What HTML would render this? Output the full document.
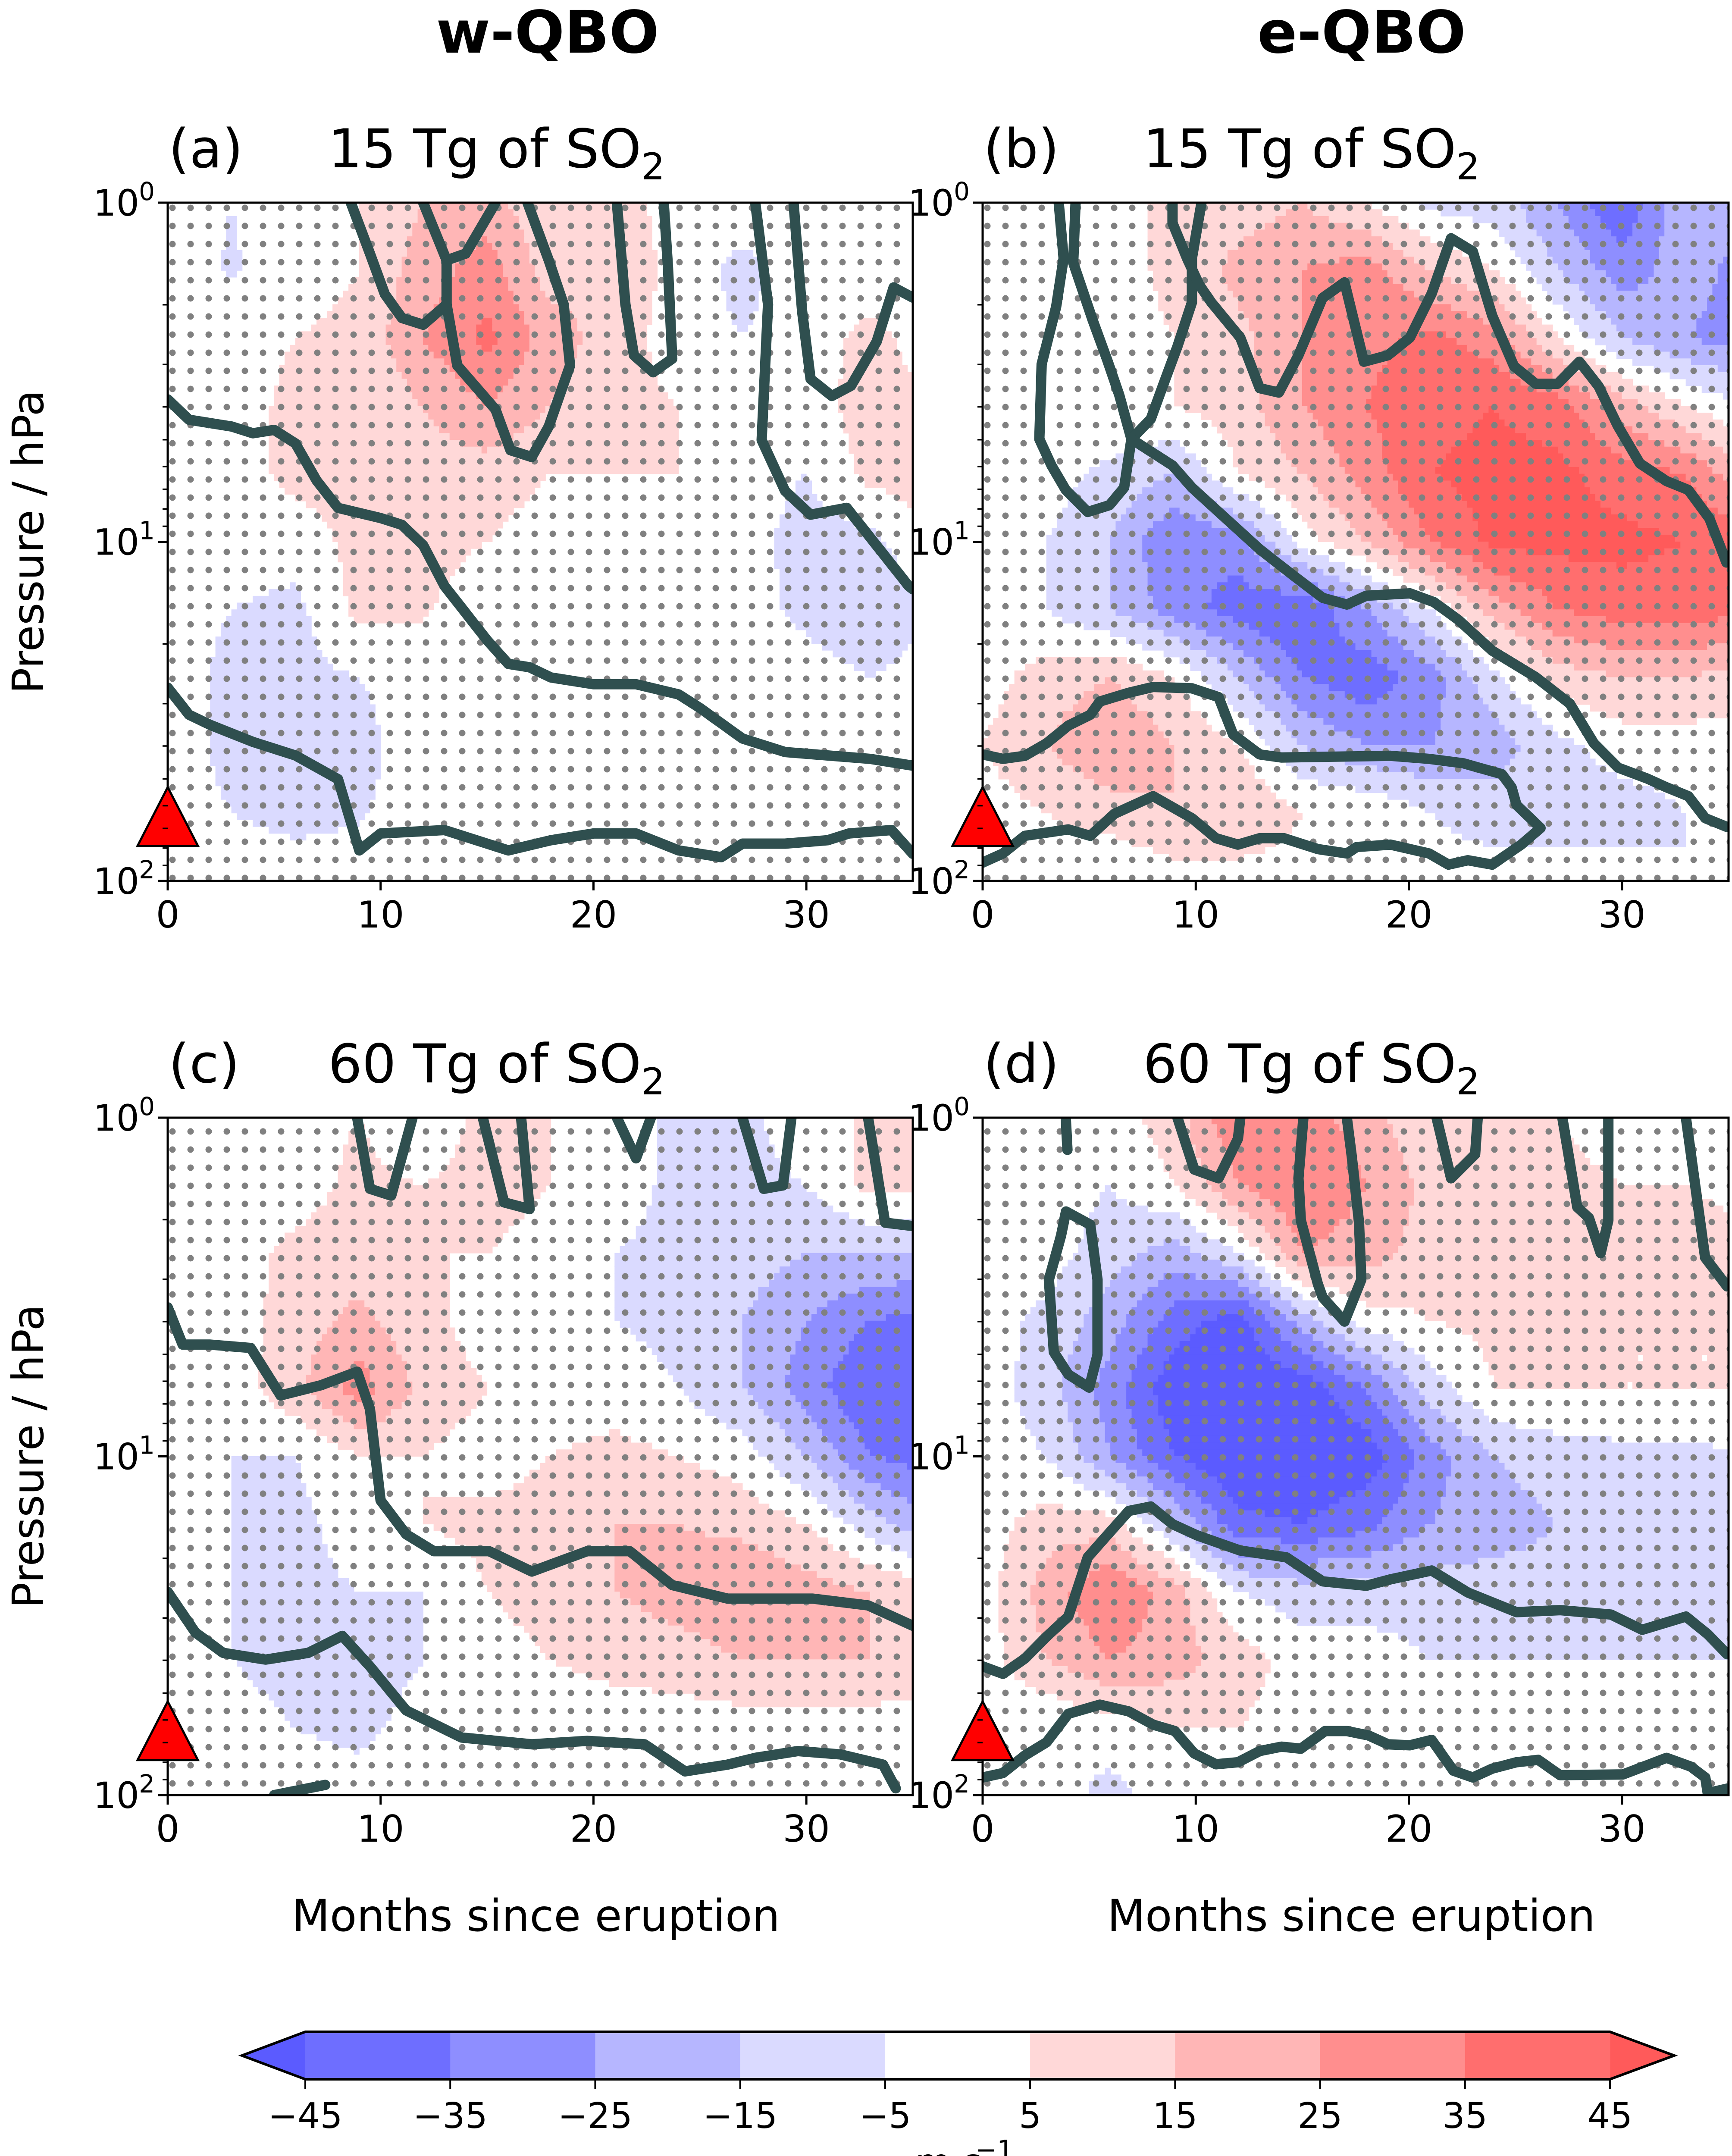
<!DOCTYPE html>
<html><head><meta charset="utf-8"><style>
html,body{margin:0;padding:0;background:#fff;width:4017px;height:5074px;overflow:hidden;}
svg{display:block;font-family:"DejaVu Sans","Liberation Sans",sans-serif;}
</style></head><body>
<svg id="fig" xmlns="http://www.w3.org/2000/svg" width="4017" height="5074" viewBox="0 0 4017 5074">
<defs>
<pattern id="stip" patternUnits="userSpaceOnUse" width="42" height="42" x="10" y="8"><circle cx="12" cy="12" r="7.5" fill="#808080"/></pattern>
</defs>
<text x="1270" y="122" font-size="136" font-weight="bold" text-anchor="middle">w-QBO</text>
<text x="3158" y="122" font-size="136" font-weight="bold" text-anchor="middle">e-QBO</text>
<g id="panels"></g>
<g id="cbar"></g>
</svg>
<script>
// ---------- data ----------
const nodeMonths=[0,3,6,9,12,15,18,21,24,27,30,33,36];
const nodeLogP=[0,0.2,0.4,0.6,0.8,1.0,1.2,1.4,1.6,1.8,2.0];
const fieldA=[
[0,-5,0,5,15,20,5,10,0,0,5,5,0],
[0,-6,0,5,20,30,10,15,0,-8,0,0,0],
[0,0,5,8,25,38,20,10,0,-5,0,8,0],
[0,0,8,5,15,25,15,8,5,0,0,10,5],
[0,0,8,8,10,10,5,5,5,0,-5,8,10],
[0,0,0,8,8,5,0,0,0,0,-10,-8,5],
[0,-5,-8,8,6,0,0,0,0,0,-8,-15,-5],
[0,-8,-8,-5,0,0,0,0,0,0,0,-5,0],
[0,-8,-8,-8,0,0,0,0,0,0,0,0,5],
[0,-5,-8,-6,0,0,0,0,0,0,0,0,0],
[0,0,0,0,0,0,0,0,0,0,0,0,0]];
const fieldB=[
[0,0,0,8,10,15,5,-8,-10,-25,-45,-15,-25],
[0,0,0,8,18,25,30,15,5,-15,-30,-20,-30],
[0,0,0,5,12,25,32,38,30,5,-15,-25,-30],
[0,0,5,5,10,25,35,42,45,40,20,5,-5],
[0,0,-8,-15,5,15,30,45,48,48,40,35,15],
[0,-5,-15,-35,-30,0,15,35,48,48,48,45,40],
[0,-5,-15,-30,-40,-45,-25,-5,20,35,40,40,38],
[0,10,15,5,-15,-35,-42,-30,-8,10,15,15,10],
[5,15,25,15,5,-15,-25,-25,-20,-8,0,0,0],
[0,5,10,15,15,5,5,-5,-10,-10,-10,-5,-5],
[0,0,-5,0,0,0,0,0,0,0,0,-5,0]];
const fieldC=[
[0,-5,0,5,-5,10,5,-5,-5,-10,5,5,5],
[0,0,0,8,5,10,5,0,-8,-10,-5,8,5],
[0,0,8,10,5,5,0,-5,-8,-10,-15,-15,-15],
[0,0,10,18,8,0,0,-5,-8,-15,-25,-35,-40],
[0,0,12,30,12,5,0,0,-5,-15,-30,-45,-45],
[0,-5,-5,5,5,0,5,8,5,0,-15,-35,-40],
[0,-5,-8,0,5,8,10,15,15,12,5,-10,-25],
[0,-5,-8,-5,-5,5,10,15,20,25,20,15,10],
[0,-5,-10,-12,-5,0,5,8,10,15,15,15,10],
[0,0,-5,-8,0,0,0,0,0,0,0,0,0],
[0,0,0,0,0,0,0,0,0,0,0,0,0]];
const fieldD=[
[0,0,0,10,35,30,20,5,10,5,0,0,5],
[0,0,-5,5,25,35,25,12,15,8,5,5,0],
[0,0,-10,-20,-5,25,20,10,15,10,8,12,10],
[0,-8,-20,-40,-50,-20,0,5,8,8,5,5,5],
[0,-10,-30,-52,-55,-52,-35,-10,5,5,5,5,5],
[0,-5,-25,-45,-55,-55,-52,-30,-15,-10,-8,-8,-5],
[0,10,10,-15,-42,-45,-38,-25,-20,-15,-10,-8,-8],
[0,20,35,20,-5,-10,-10,-10,-10,-10,-15,-15,-10],
[0,15,25,20,10,0,0,-5,-5,-5,-5,-5,-5],
[0,-5,0,5,5,0,0,0,0,0,0,0,0],
[0,0,-8,0,0,0,0,0,0,0,0,0,0]];
// zero-wind contour lines: [month, log10(p)]
const linesA=[
[[0,0.58],[1,0.64],[3,0.66],[4,0.68],[5,0.67],[6,0.71],[7,0.82],[8,0.9],[10,0.93],[11,0.95],[12,1.01],[13,1.13],[14,1.21],[15,1.29],[16,1.36],[17,1.37],[18,1.4],[20,1.42],[22,1.42],[24,1.45],[25,1.49],[27,1.58],[29,1.62],[31,1.63],[33,1.64],[35,1.66]],
[[0,1.43],[1,1.51],[2,1.54],[4,1.59],[6,1.63],[8,1.7],[9,1.91],[10,1.86],[13,1.85],[15,1.89],[16,1.91],[18,1.88],[20,1.86],[22,1.86],[24,1.91],[26,1.93],[27,1.89],[29,1.89],[31,1.88],[32,1.86],[34,1.85],[35,1.92]],
[[8.6,0],[9.5,0.15],[10.2,0.27],[11,0.34],[12,0.36],[13.1,0.3],[13.6,0.48],[15.4,0.61],[16.1,0.73],[17.1,0.75],[17.9,0.66],[18.9,0.48],[18.6,0.3],[17.9,0.17],[16.9,0]],
[[12,0],[13.1,0.17],[14,0.15],[15.4,0]],
[[13.1,0.17],[13.1,0.3]],
[[21.1,0],[21.5,0.3],[21.9,0.45],[22.8,0.5],[23.7,0.46],[23.5,0.19],[23.3,0]],
[[27.6,0],[28.2,0.3],[27.9,0.7],[29,0.85],[30.2,0.92],[31.9,0.9],[34.8,1.13],[35,1.14]],
[[29.4,0],[29.8,0.32],[30.2,0.52],[31.2,0.57],[32.1,0.54],[33.3,0.41],[34.1,0.25],[35,0.28]]];
const linesB=[
[[3.57,0],[3.8,0.164],[3.45,0.307],[2.77,0.476],[2.66,0.697],[3.23,0.775],[3.9,0.847],[4.93,0.912],[5.95,0.892],[6.64,0.84],[6.98,0.697],[6.41,0.567],[5.84,0.463],[5.16,0.346],[4.25,0.177],[4.36,0]],
[[6.98,0.697],[7.89,0.638],[8.45,0.541],[9.14,0.424],[9.82,0.294],[9.82,0.164],[10.27,0]],
[[8.91,0],[8.91,0.06],[9.59,0.164],[10.16,0.242],[10.73,0.294],[12.09,0.398],[13.0,0.547],[13.9,0.56],[14.82,0.45],[15.95,0.281],[16.98,0.235],[17.89,0.469],[19.02,0.45],[20.05,0.398],[21.07,0.268],[21.98,0.105],[23.0,0.144],[23.91,0.333],[24.93,0.482],[25.95,0.534],[26.98,0.534],[28.0,0.469],[28.9,0.541],[29.8,0.658],[30.84,0.769],[32.09,0.821],[33.11,0.847],[34.1,0.931],[34.9,1.061]],
[[6.98,0.697],[8.91,0.775],[9.82,0.84],[11.18,0.918],[13.0,1.022],[14.59,1.1],[15.95,1.165],[17.09,1.185],[18.0,1.159],[20.05,1.152],[21.18,1.178],[22.32,1.23],[23.91,1.321],[25.95,1.399],[27.55,1.477],[28.68,1.594],[29.82,1.666],[31.18,1.698],[32.09,1.724],[33.11,1.75],[33.91,1.815],[34.93,1.841]],
[[0,1.627],[0.95,1.64],[1.98,1.631],[3.0,1.594],[4.02,1.542],[5.05,1.51],[5.5,1.471],[6.86,1.445],[8.0,1.428],[9.82,1.432],[11.07,1.458],[11.75,1.568],[13.0,1.627],[14.02,1.636],[17.09,1.633],[19.14,1.631],[20.95,1.64],[22.55,1.653],[24.36,1.685],[24.82,1.724],[25.05,1.776],[26.18,1.844],[25.27,1.893],[23.91,1.952],[22.77,1.939],[21.86,1.952],[20.95,1.919],[19.14,1.893],[17.55,1.9],[17.09,1.919],[15.73,1.906],[14.14,1.874],[13.0,1.874],[11.98,1.893],[10.95,1.874],[9.82,1.815],[8.0,1.75],[6.18,1.802],[5.05,1.867],[4.02,1.848],[1.98,1.867],[0.95,1.919],[0,1.946]]];
const linesC=[
[[0,0.56],[0.7,0.67],[2,0.67],[3.9,0.68],[5.3,0.82],[7.2,0.79],[8.9,0.75],[9.5,0.86],[10,1.13],[11.2,1.23],[12.5,1.28],[15.1,1.28],[17.1,1.34],[19.7,1.28],[21.7,1.28],[23.7,1.38],[26.3,1.42],[30.3,1.42],[32.9,1.44],[35,1.5]],
[[0,1.4],[1.3,1.52],[2.6,1.58],[4.6,1.6],[6.6,1.58],[8.2,1.53],[9.5,1.62],[11.2,1.75],[13.8,1.83],[17.1,1.85],[19.7,1.84],[22.4,1.85],[24.3,1.93],[26.3,1.91],[27.6,1.89],[29.6,1.87],[31.6,1.88],[33.6,1.91],[34.2,1.98]],
[[8.9,0],[9.5,0.21],[10.5,0.23],[11.5,0]],
[[14.8,0],[15.8,0.25],[17,0.27],[16.6,0]],
[[21.1,0],[22,0.12],[22.7,0]],
[[27,0],[28,0.21],[28.9,0.2],[29.3,0]],
[[32.9,0],[33.7,0.31],[35,0.32]],
[[5,2],[7.4,1.97]]];
const linesD=[
[[0,1.62],[0.95,1.642],[1.98,1.597],[3.0,1.532],[4.02,1.473],[4.93,1.298],[5.84,1.233],[6.86,1.161],[7.89,1.148],[8.91,1.2],[10.05,1.233],[12.09,1.278],[14.25,1.298],[15.95,1.369],[18.0,1.382],[19.14,1.363],[21.07,1.337],[22.77,1.402],[25.05,1.46],[27.09,1.454],[29.48,1.467],[30.95,1.512],[33.0,1.473],[34.02,1.525],[34.93,1.584]],
[[0,1.948],[0.95,1.935],[1.98,1.883],[3.0,1.844],[4.02,1.76],[5.5,1.733],[6.86,1.753],[8.0,1.792],[9.02,1.811],[9.93,1.877],[10.95,1.909],[11.98,1.903],[13.0,1.87],[14.02,1.857],[14.93,1.863],[16.07,1.811],[17.09,1.811],[18.11,1.824],[19.02,1.85],[20.05,1.853],[21.07,1.837],[22.09,1.928],[23.0,1.948],[23.91,1.922],[25.05,1.903],[26.07,1.896],[27.09,1.941],[30.05,1.939],[32.09,1.89],[33.23,1.916],[33.91,1.948],[34.02,1.994],[34.93,1.981]],
[[3.91,0.277],[5.05,0.316],[5.39,0.478],[5.39,0.7],[5.0,0.797],[4.02,0.758],[3.34,0.692],[3.11,0.478],[3.68,0.348],[3.91,0.277]],
[[3.9,0],[3.98,0.095]],
[[9.14,0],[9.93,0.153],[11.07,0.179],[11.98,0.062],[12.09,0]],
[[15.05,0],[14.82,0.179],[14.93,0.303],[15.73,0.491],[15.95,0.53],[16.98,0.602],[17.77,0.478],[17.66,0.309],[17.32,0.114],[17.09,0]],
[[21.3,0],[21.98,0.179],[23.11,0.108],[23.23,0]],
[[27.2,0],[27.9,0.264],[28.45,0.296],[29.0,0.4],[29.36,0.303],[29.36,0]],
[[33.0,0],[33.9,0.413],[34.93,0.498]]];
const xTicks=[0,10,20,30];
const yTickExps=[0,1,2];
const levelBounds=[-45,-35,-25,-15,-5,5,15,25,35,45];
const levelLabels=["\u221245","\u221235","\u221225","\u221215","\u22125","5","15","25","35","45"];
const levelColors=["#5b5bff","#6e6eff","#8e8eff","#b6b6ff","#dadaff","#ffffff","#ffd8d8","#ffb6b6","#ff8e8e","#ff6e6e","#ff5a5a"];
const panelTitles=[["(a)","15 Tg of SO"],["(b)","15 Tg of SO"],["(c)","60 Tg of SO"],["(d)","60 Tg of SO"]];

// ---------- drawing ----------
const NS="http://www.w3.org/2000/svg";
function mk(tag,attrs,parent){const e=document.createElementNS(NS,tag);for(const k in attrs)e.setAttribute(k,attrs[k]);if(parent)parent.appendChild(e);return e;}
function colorFor(v){let i=0;while(i<levelBounds.length&&v>=levelBounds[i])i++;return levelColors[i];}
function sample(f,m,lp){
  let fi=m/3, fj=lp/0.2;
  let i=Math.min(Math.floor(fi),nodeMonths.length-2), j=Math.min(Math.floor(fj),nodeLogP.length-2);
  let a=fi-i,b=fj-j;
  return f[j][i]*(1-a)*(1-b)+f[j][i+1]*a*(1-b)+f[j+1][i]*(1-a)*b+f[j+1][i+1]*a*b;
}
const P=[{x:389,y:470,w:1728,h:1573,f:fieldA,l:linesA,n:"a"},{x:2279,y:470,w:1730,h:1573,f:fieldB,l:linesB,n:"b"},
         {x:389,y:2592,w:1728,h:1571,f:fieldC,l:linesC,n:"c"},{x:2279,y:2592,w:1730,h:1571,f:fieldD,l:linesD,n:"d"}];
const root=document.getElementById('panels');
P.forEach((p,k)=>{
  const xs=m=>p.x+m/35*p.w, ys=lp=>p.y+lp/2*p.h;
  const g=mk('g',{},root);
  
  
  const cp=mk('clipPath',{id:'clip'+k},g);mk('rect',{x:p.x,y:p.y,width:p.w,height:p.h},cp);
  const fill=mk('g',{'clip-path':'url(#clip'+k+')'},g);
  
  
  const dm=0.25,dl=0.02;
  for(let lp=0;lp<2-1e-9;lp+=dl){
    let start=0,cur=colorFor(sample(p.f,dm/2,lp+dl/2));
    for(let m=dm;m<=35+1e-9;m+=dm){
      const c=m<35-1e-9?colorFor(sample(p.f,m+dm/2,lp+dl/2)):null;
      if(c!==cur){
        if(cur!=="#ffffff"){const r=mk('rect',{x:xs(start)-0.5,y:ys(lp)-0.5,width:xs(m)-xs(start)+1,height:ys(lp+dl)-ys(lp)+1,fill:cur},fill);
          }
        start=m;cur=c;
      }
    }
  }
  const st=mk('rect',{x:p.x,y:p.y,width:p.w,height:p.h,fill:'url(#stip)'},g);
  
  const lg=mk('g',{'clip-path':'url(#clip'+k+')'},g);
  p.l.forEach(line=>{
    const d=line.map((pt,i)=>(i?'L':'M')+xs(pt[0]).toFixed(1)+' '+ys(pt[1]).toFixed(1)).join(' ');
    const e=mk('path',{d:d,fill:'none',stroke:'#2f4f4f','stroke-width':24,'stroke-linejoin':'round','stroke-linecap':'round'},lg);
    
  });
  const fr=mk('rect',{x:p.x,y:p.y,width:p.w,height:p.h,fill:'none',stroke:'#000','stroke-width':5},g);
  
  const tx=xs(0),ty=ys(1.81);
  const tri=mk('polygon',{points:`${tx-70},${ty+68} ${tx+70},${ty+68} ${tx},${ty-68}`,fill:'#ff0000',stroke:'#000','stroke-width':5},g);
  
  xTicks.forEach(t=>{
    mk('line',{x1:xs(t),x2:xs(t),y1:p.y+p.h,y2:p.y+p.h+22,stroke:'#000','stroke-width':5},g);
    const tl=mk('text',{x:xs(t),y:p.y+p.h+108,'font-size':86,'text-anchor':'middle'},g);tl.textContent=t;
    
  });
  yTickExps.forEach(e=>{
    const y=ys(e);
    mk('line',{x1:p.x-22,x2:p.x,y1:y,y2:y,stroke:'#000','stroke-width':5},g);
    const tl=mk('text',{x:p.x-66,y:y+30,'font-size':84,'text-anchor':'end'},g);
    
    tl.textContent='10';
    const sp=mk('text',{x:p.x-30,y:y-6,'font-size':58,'text-anchor':'end'},g);sp.textContent=e;
    
    if(e<2)for(let n=2;n<10;n++){const yy=ys(e+Math.log10(n));mk('line',{x1:p.x-12,x2:p.x,y1:yy,y2:yy,stroke:'#000','stroke-width':3.5},g);}
  });
  const t1=mk('text',{x:p.x+2,y:p.y-82,'font-size':124},g);t1.textContent=panelTitles[k][0];
  
  const t2=mk('text',{x:p.x+372,y:p.y-82,'font-size':124},g);t2.textContent=panelTitles[k][1];
  
  const sub=mk('tspan',{dy:28,'font-size':86},t2);sub.textContent='2';
  if(k%2===0){
    const yl=mk('text',{x:0,y:0,'font-size':100,'text-anchor':'middle',transform:`translate(100,${p.y+p.h/2}) rotate(-90)`},g);
    yl.textContent='Pressure / hPa';
  }
  if(k>=2){
    const xl=mk('text',{x:p.x+p.w*0.5-10,y:4478,'font-size':102,'text-anchor':'middle'},g);
    xl.textContent='Months since eruption';
  }
});
// colorbar
const cb=document.getElementById('cbar');
const cx0=708,cx1=3734,cy0=4712,cy1=4822,cym=(cy0+cy1)/2;
const cxs=v=>cx0+(v-levelBounds[0])/(levelBounds[levelBounds.length-1]-levelBounds[0])*(cx1-cx0);
const la=mk('polygon',{points:`${cx0},${cy0} ${cx0},${cy1} 561,${cym}`,fill:levelColors[0]},cb);

const ra=mk('polygon',{points:`${cx1},${cy0} ${cx1},${cy1} 3883,${cym}`,fill:levelColors[levelColors.length-1]},cb);

for(let i=0;i<levelBounds.length-1;i++){
  const r=mk('rect',{x:cxs(levelBounds[i]),y:cy0,width:cxs(levelBounds[i+1])-cxs(levelBounds[i])+0.5,height:cy1-cy0,fill:levelColors[i+1]},cb);
  
}
mk('polygon',{points:`561,${cym} ${cx0},${cy0} ${cx1},${cy0} 3883,${cym} ${cx1},${cy1} ${cx0},${cy1}`,fill:'none',stroke:'#000','stroke-width':6},cb);
levelBounds.forEach((v,i)=>{
  mk('line',{x1:cxs(v),x2:cxs(v),y1:cy1,y2:cy1+22,stroke:'#000','stroke-width':4},cb);
  const t=mk('text',{x:cxs(v),y:4935,'font-size':82,'text-anchor':'middle'},cb);t.textContent=levelLabels[i];
  
});
const u=mk('text',{x:2200,y:5044,'font-size':86,'text-anchor':'middle'},cb);u.textContent='m s';

const us=mk('text',{x:2262,y:5006,'font-size':60},cb);us.textContent='\u22121';

</script>
</body></html>
